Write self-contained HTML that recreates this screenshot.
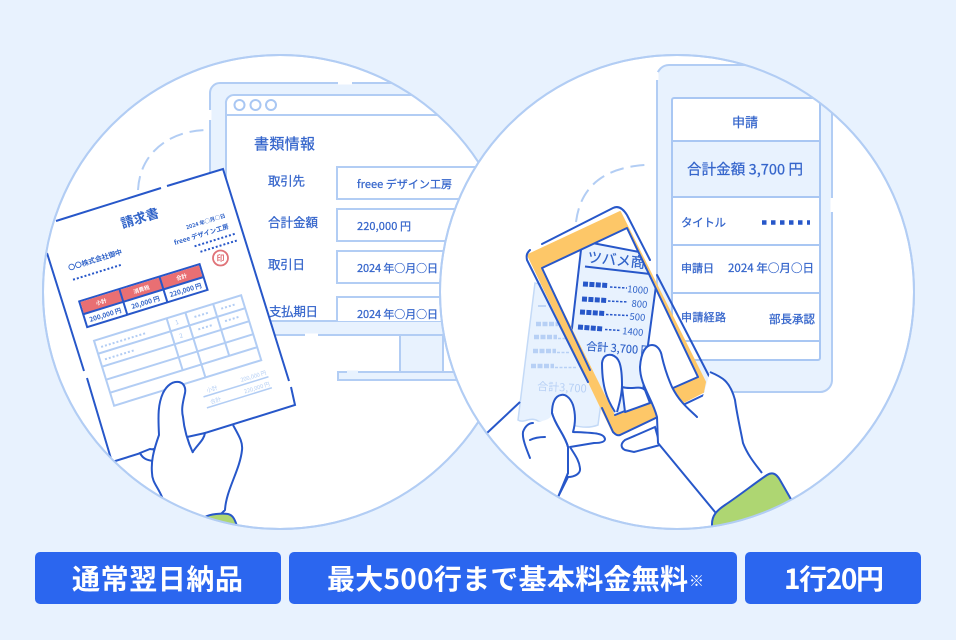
<!DOCTYPE html>
<html><head><meta charset="utf-8"><style>
html,body{margin:0;padding:0;background:#e8f2fe;width:956px;height:640px;overflow:hidden}
text{font-family:"Noto Sans CJK JP","Liberation Sans",sans-serif}
</style></head><body>
<svg width="956" height="640" viewBox="0 0 956 640" xmlns="http://www.w3.org/2000/svg" style="display:block">
<defs>
<clipPath id="cl"><circle cx="280" cy="292" r="237"/></clipPath>
<clipPath id="cr"><circle cx="677" cy="292" r="237"/></clipPath>
<clipPath id="scr"><polygon points="542,268 627,228 698,377 615,415"/></clipPath>
</defs>
<rect width="956" height="640" fill="#e8f2fe"/>

<!-- LEFT CIRCLE -->
<circle cx="280" cy="292" r="237" fill="#fff" stroke="#b2cdf4" stroke-width="2"/>
<g clip-path="url(#cl)">
 <path d="M138 190C140 152 170 131 206 130" fill="none" stroke="#b2cdf4" stroke-width="2" stroke-dasharray="14 7"/>
 <!-- monitor -->
 <rect x="210" y="83" width="330" height="252" rx="10" fill="#e8f2fe" stroke="#b2cdf4" stroke-width="2"/>
 <rect x="400" y="335" width="43" height="37" fill="#e8f2fe" stroke="#b2cdf4" stroke-width="2"/>
 <rect x="338" y="372" width="160" height="8" fill="#e8f2fe" stroke="#b2cdf4" stroke-width="2"/>
 <path d="M338 83H352M305 335H318M210 110V120" stroke="#fff" stroke-width="3"/>
 <path d="M347 372H358" stroke="#e8f2fe" stroke-width="3"/>
 <path d="M226 321V104a8 8 0 0 1 8-9H530V321Z" fill="#fff" stroke="#b2cdf4" stroke-width="2"/>
 <path d="M226 115H530M226 321H530" stroke="#b2cdf4" stroke-width="2" fill="none"/>
 <g fill="#fff" stroke="#a9c7f3" stroke-width="2"><circle cx="239.500" cy="105" r="5"/><circle cx="255.500" cy="105" r="5"/><circle cx="271" cy="105" r="5"/></g>
 <g fill="#fff" stroke="#b2cdf4" stroke-width="2">
  <rect x="337" y="167" width="190" height="32"/><rect x="337" y="209" width="190" height="32"/><rect x="337" y="251" width="190" height="32"/>
  <path d="M337 321V297H527V321" />
 </g>
 <g fill="#3565cb" stroke="#3565cb" stroke-width=".25">
  <text x="254" y="149" font-size="15" textLength="61">書類情報</text>
  <g font-size="12.500"><text x="268" y="185.500" textLength="37">取引先</text><text x="268" y="227" textLength="50">合計金額</text><text x="268" y="269" textLength="37">取引日</text><text x="269" y="316" textLength="49">支払期日</text></g>
  <g font-size="11"><text x="357" y="188" textLength="95">freee デザイン工房</text><text x="357" y="230" textLength="54">220,000 円</text><text x="357" y="272" textLength="81">2024 年○月○日</text><text x="357" y="318" textLength="81">2024 年○月○日</text></g>
 </g>
 <!-- invoice -->
 <polygon points="38.600,226 223,169 296,405 112,462" fill="#fff"/>
 <path d="M56 221L161 188M167 186L223 169L289 381M291 387L295 405L112 462M84 371L47 253M87 378L112 462" fill="none" stroke="#2757c9" stroke-width="2"/>
 <g transform="translate(38.600 226) rotate(-17.200)">
  <text x="99" y="27" font-size="13" font-weight="700" fill="#2f62c8" text-anchor="middle">請求書</text>
  <text x="161" y="47" font-size="5.400" fill="#2f62c8" text-anchor="middle" font-weight="700">2024 年○月○日</text>
  <text x="153" y="58.500" font-size="6.500" fill="#2f62c8" text-anchor="middle" font-weight="700">freee デザイン工房</text>
  <path d="M143 65.500H185M147 72.500H185" stroke="#2757c9" stroke-width="2" stroke-dasharray="2 2"/>
  <text x="44" y="51.500" font-size="7" fill="#2f62c8" text-anchor="middle" font-weight="700">〇〇株式会社御中</text>
  <path d="M17 61.500H67" stroke="#2757c9" stroke-width="2" stroke-dasharray="2 2"/>
  <rect x="16.500" y="84" width="126" height="27" fill="#fff" stroke="#2757c9" stroke-width="2"/>
  <rect x="17.500" y="85" width="124" height="12.500" fill="#e96f73"/>
  <path d="M58.500 84V111M100.500 84V111M16.500 97.500H142.500" stroke="#2757c9" stroke-width="2"/>
  <g font-size="5.500" fill="#fff" text-anchor="middle" font-weight="700"><text x="37.500" y="93">小計</text><text x="79.500" y="93">消費税</text><text x="121.500" y="93">合計</text></g>
  <g font-size="6.500" fill="#2f62c8" text-anchor="middle" font-weight="700"><text x="37.500" y="107">200,000 円</text><text x="79.500" y="107">20,000 円</text><text x="121.500" y="107">220,000 円</text></g>
  <rect x="19" y="126" width="154" height="68" fill="none" stroke="#b2cdf4" stroke-width="2"/>
  <path d="M19 139.600H173M19 153.200H173M19 166.800H173M19 180.400H173M95 126V180.400M114.600 126V194M143.700 126V180.400" fill="none" stroke="#b2cdf4" stroke-width="2"/>
  <path d="M24 134H70M24 147H56M122 133H137M150 133H165M122 146H137M150 146H165" stroke="#b2cdf4" stroke-width="2" stroke-dasharray="2 2"/>
  <g font-size="6" fill="#a9c7f3"><text x="102" y="135">1</text><text x="102" y="149">2</text></g>
  <path d="M107 212H175M107 223.500H175" stroke="#b2cdf4" stroke-width="1.500"/>
  <g font-size="5.500" fill="#b2cdf4"><text x="112" y="209">小計</text><text x="112" y="221">合計</text><text x="174" y="209" text-anchor="end">200,000 円</text><text x="174" y="221" text-anchor="end">220,000 円</text></g>
 </g>
 <circle cx="220.500" cy="258" r="7.500" fill="#fff" stroke="#e07378" stroke-width="1.800"/>
 <text x="220.500" y="261" font-size="8" fill="#e07378" text-anchor="middle" font-weight="700">印</text>
 <!-- left hand -->
 <path d="M140 453C143 459 147 460 153 461L157 450L150 449Z" fill="#fff" stroke="#2757c9" stroke-width="2"/>
 <path d="M187 437L205 433C204 440 198 444 192 453Z" fill="#fff" stroke="#2757c9" stroke-width="2"/>
 <path d="M233 425C239 436 243 442 242 450C240 470 226 490 225 510L205 530H175L162 497C158 487 152 482 152 473C151 462 153 452 159 435C158 415 158 404 163 393C167 385 173 381 179 382C184 383 186 388 185 393C183 402 181 409 183 417C184 428 187 440 193 453" fill="#fff" stroke="#2757c9" stroke-width="2" stroke-linejoin="round"/>
 <path d="M205 517C210 514 222 513 228 514C233 515 235 520 237 526V535H205Z" fill="#aed672" stroke="#2757c9" stroke-width="2"/>
</g>
<circle cx="280" cy="292" r="237" fill="none" stroke="#b2cdf4" stroke-width="2"/>

<!-- RIGHT CIRCLE -->
<circle cx="677" cy="292" r="237" fill="#fff" stroke="#b2cdf4" stroke-width="2"/>
<g clip-path="url(#cr)">
 <path d="M576 222C580 190 600 168 645 165" fill="none" stroke="#b2cdf4" stroke-width="2" stroke-dasharray="14 7"/>
 <!-- phone mock -->
 <rect x="657" y="65" width="175" height="327" rx="12" fill="#e8f2fe" stroke="#b2cdf4" stroke-width="2"/>
 <path d="M832 198V212M657 72V80" stroke="#fff" stroke-width="3"/>
 <rect x="672" y="98" width="148" height="262" rx="2" fill="#fff" stroke="#a9c7f3" stroke-width="2"/>
 <rect x="672" y="141" width="148" height="56" fill="#e8f2fe" stroke="#a9c7f3" stroke-width="2"/>
 <path d="M672 245H820M672 293H820M672 341H820" stroke="#a9c7f3" stroke-width="2"/>
 <g fill="#3565cb" stroke="#3565cb" stroke-width=".25">
  <text x="745" y="127" font-size="13" text-anchor="middle">申請</text>
  <text x="687" y="174.500" font-size="14.500" textLength="116">合計金額 3,700 円</text>
  <text x="681" y="226.500" font-size="11.500" textLength="45">タイトル</text>
  <text x="681" y="272" font-size="11" textLength="33">申請日</text>
  <text x="728" y="272" font-size="11.500" textLength="86">2024 年○月○日</text>
  <text x="681" y="321" font-size="11" textLength="45">申請経路</text>
  <text x="769" y="323" font-size="11.500" textLength="46">部長承認</text>
 </g>
 <path d="M762 222.500H810" stroke="#2757c9" stroke-width="4.500" stroke-dasharray="4.500 4.500"/>
 <!-- back receipt -->
 <path d="M535 283L518 420C524 424 530 416 538 421C546 425 552 416 560 420C570 425 585 430 598 425L615 300Z" fill="#e8f2fe" stroke="#c4daf7" stroke-width="1.500"/>
 <path d="M538 306H546" stroke="#b2cdf4" stroke-width="1.500"/>
 <g stroke="#b7d0f5" stroke-width="4.500" stroke-dasharray="5 1.500" fill="none"><path d="M536 324H558"/><path d="M534 337H557"/><path d="M533 351H556"/><path d="M531 366H554"/></g>
 <g stroke="#b7d0f5" stroke-width="1.500" stroke-dasharray="3 1.500"><path d="M558 338.500H570M557 352.500H570M555 367.500H576"/></g>
 <text x="537" y="390" font-size="11" fill="#b7d0f5" transform="rotate(3 537 390)">合計3,700</text>
 <!-- phone device -->
 <path d="M528 255L620 212L705 382L703 392L620 435L613 432Z" fill="#fdc768" stroke="#fdc768" stroke-width="2" stroke-linejoin="round"/>
 <polygon points="542,268 627,228 698,377 615,415" fill="#fff"/>
 <g clip-path="url(#scr)">
  <path d="M582 241L660 256L648 345L640 420L560 420L572 328Z" fill="#e8f2fe" stroke="#2757c9" stroke-width="2"/>
  <text transform="translate(587 262) rotate(6)" font-size="14.500" fill="#2f62c8" stroke="#2f62c8" stroke-width=".2">ツバメ商店</text>
  <path d="M585 266.500L650 274" stroke="#2757c9" stroke-width="2"/>
  <g fill="none" stroke="#2757c9">
   <g stroke-width="5" stroke-dasharray="5 1.400"><path d="M583 284L608 285.500"/><path d="M582 299L607 300.500"/><path d="M580 312L605 313.500"/><path d="M578 327L603 329"/></g>
   <g stroke-width="1.500" stroke-dasharray="2.500 1.500"><path d="M610 287L627 288"/><path d="M608 301L628 302"/><path d="M606 314.500L628 315.500"/><path d="M605 329.500L621 330.500"/></g>
  </g>
  <g font-size="9.500" fill="#2f62c8" text-anchor="end">
   <text x="648" y="294" transform="rotate(5 648 294)">1000</text>
   <text x="647" y="308" transform="rotate(5 647 308)">800</text>
   <text x="645" y="321" transform="rotate(5 645 321)">500</text>
   <text x="643" y="336" transform="rotate(5 643 336)">1400</text>
  </g>
  <text transform="translate(586 350) rotate(4)" font-size="11" fill="#2f62c8" stroke="#2f62c8" stroke-width=".15">合計 3,700 円</text>
 </g>
 <!-- phone outline -->
 <g fill="none" stroke="#2757c9" stroke-width="2" stroke-linecap="round" stroke-linejoin="round">
  <path d="M542 268L627 228L698 377L673 388M542 268L590 370M615 415L647 402"/>
  <path d="M542 244L613 208C617 206 622 207 627 215L650 260M657 275L710 378C713 384 713 390 708 393L620 435C617 436 615 434 613 432L602 408M588 382L527 260C526 255 527 253 530 250"/>
 </g>
 <!-- back fingers -->
 <path d="M622 387C632 390 640 385 645 390L650 403L625 412Z" fill="#fff" stroke="#2757c9" stroke-width="2" stroke-linejoin="round"/>
 <path d="M655 427L625 440C620 444 621 448 625 450L634 452L660 445Z" fill="#fff" stroke="#2757c9" stroke-width="2"/>
 <!-- middle thumb -->
 <path d="M615 412C606 398 602 385 602 363C603 356 607 354 612 355C618 357 622 362 622 385C622 395 619 405 617 412" fill="#fff" stroke="#2757c9" stroke-width="2"/>
 <!-- left holding hand -->
 <path d="M487 433L520 402" fill="none" stroke="#2757c9" stroke-width="2"/>
 <path d="M558 497L568 477C574 477 581 474 580 468C579 460 575 455 570 447L594 443C600 443 605 442 605 439C604 433 595 433 573 432C575 425 576 415 573 405C570 397 565 394 561 395C555 396 552 403 552 413C555 425 565 435 568 447L568 473Z" fill="#fff" stroke="#2757c9" stroke-width="2" stroke-linejoin="round"/>
 <path d="M530 458L523 437C521 431 526 425 533 423C542 421 552 420 552 413L558 440L568 470L558 497Z" fill="#fff"/>
 <path d="M530 458C526 448 522 438 523 432C525 426 529 423 533 423M530 440C536 437 542 437 545 437" fill="none" stroke="#2757c9" stroke-width="2" stroke-linecap="round"/>
 <path d="M552 413C555 425 565 435 568 447L568 473L558 497" fill="none" stroke="#2757c9" stroke-width="2"/>
 <!-- right hand -->
 <path d="M710 372C722 377 730 381 735 400C737 415 741 432 743 443C748 456 756 465 762 473L790 520H715L658 443L657 417C652 398 640 385 640 367C641 352 646 345 652 345C657 345 661 350 662 357C665 370 668 378 672 387C680 403 690 410 697 417Z" fill="#fff"/>
 <path d="M710 372C722 377 730 381 735 400C737 415 741 432 743 443C748 456 756 465 762 473" fill="none" stroke="#2757c9" stroke-width="2"/>
 <path d="M715 512L658 443L657 417C652 398 640 385 640 367C641 352 646 345 652 345C657 345 661 350 662 357C665 370 668 378 672 387C680 403 690 410 697 417" fill="none" stroke="#2757c9" stroke-width="2" stroke-linecap="round"/>
 <path d="M712 524C712 516 716 511 725 505C740 495 755 483 767 475C772 472 776 473 780 480L800 515L730 540H712Z" fill="#aed672" stroke="#2757c9" stroke-width="2" stroke-linejoin="round"/>
</g>
<circle cx="677" cy="292" r="237" fill="none" stroke="#b2cdf4" stroke-width="2"/>

<!-- Buttons -->
<rect x="35" y="552" width="246" height="52" rx="5" fill="#2b66ef"/>
<rect x="289" y="552" width="448" height="52" rx="5" fill="#2b66ef"/>
<rect x="745" y="552" width="176" height="52" rx="5" fill="#2b66ef"/>
<g fill="#fff" font-weight="700" font-size="28">
 <text x="72" y="589" textLength="171">通常翌日納品</text>
 <text x="327" y="589" textLength="361">最大500行まで基本料金無料</text>
 <text x="689" y="586" font-size="15" font-weight="400">※</text>
 <text x="784" y="589" textLength="100">1行20円</text>
</g>
</svg>
</body></html>
